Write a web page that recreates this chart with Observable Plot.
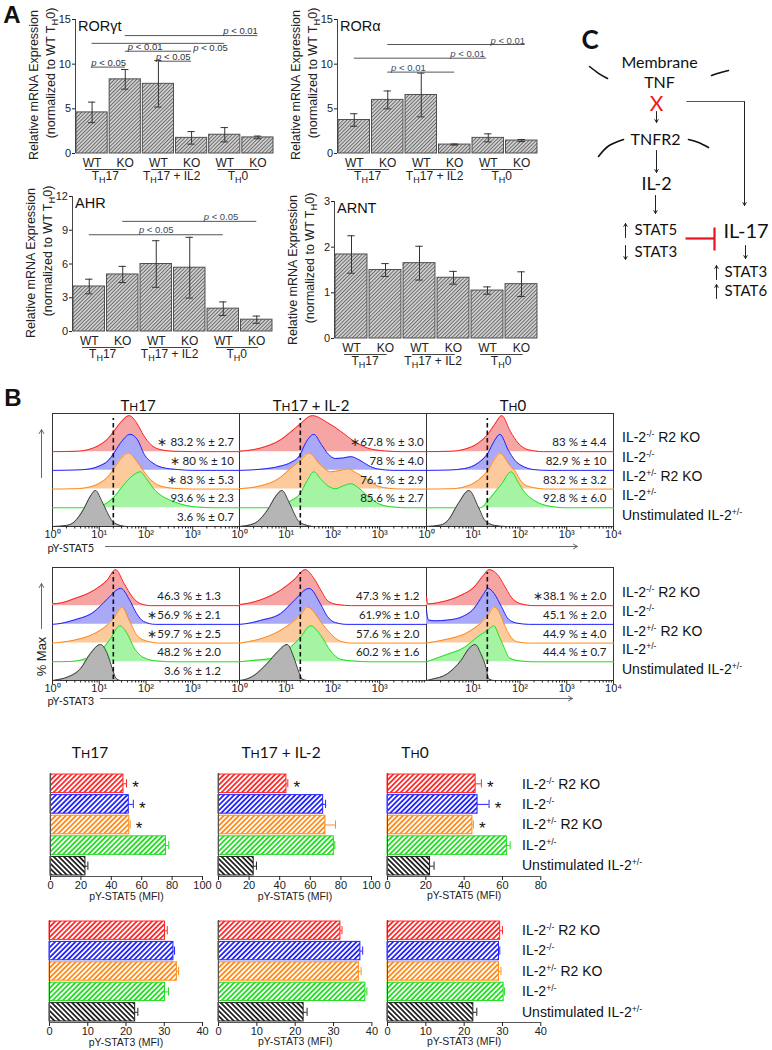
<!DOCTYPE html>
<html><head><meta charset="utf-8">
<script src="https://cdn.jsdelivr.net/npm/d3@7"></script>
<script src="https://cdn.jsdelivr.net/npm/@observablehq/plot@0.6"></script>
<style>
body{margin:0;background:#fff;}
#root{position:relative;width:772px;height:1050px;overflow:hidden;background:#fff;}
#root svg{position:absolute;background:transparent;overflow:visible;max-width:none;}
.lb{position:absolute;white-space:nowrap;line-height:1;}
.sp{font-size:0.62em;position:relative;top:-0.55em;}
.sb{font-size:0.75em;position:relative;top:0.3em;}
.sc{font-size:0.78em;}
</style></head>
<body>
<svg width="0" height="0" style="position:absolute">
<defs>
<pattern id="hatchA" patternUnits="userSpaceOnUse" width="2.6" height="2.6" patternTransform="rotate(45)">
<rect width="2.6" height="2.6" fill="#d0d0d0"/><rect width="0.9" height="2.6" fill="#666"/></pattern>
<pattern id="hb0" patternUnits="userSpaceOnUse" width="3.6" height="3.6" patternTransform="rotate(45)">
<rect width="3.6" height="3.6" fill="#fff"/><rect width="1.8" height="3.6" fill="#ff2a2a"/></pattern>
<pattern id="hb1" patternUnits="userSpaceOnUse" width="3.6" height="3.6" patternTransform="rotate(45)">
<rect width="3.6" height="3.6" fill="#fff"/><rect width="1.8" height="3.6" fill="#2424ff"/></pattern>
<pattern id="hb2" patternUnits="userSpaceOnUse" width="3.6" height="3.6" patternTransform="rotate(45)">
<rect width="3.6" height="3.6" fill="#fff"/><rect width="1.8" height="3.6" fill="#ff8c1a"/></pattern>
<pattern id="hb3" patternUnits="userSpaceOnUse" width="3.6" height="3.6" patternTransform="rotate(45)">
<rect width="3.6" height="3.6" fill="#fff"/><rect width="1.8" height="3.6" fill="#22dd22"/></pattern>
<pattern id="hb4" patternUnits="userSpaceOnUse" width="3.6" height="3.6" patternTransform="rotate(-45)">
<rect width="3.6" height="3.6" fill="#fff"/><rect width="1.8" height="3.6" fill="#222"/></pattern>
</defs></svg>
<div id="root"></div>
<script>
// ---------------- Panel A data ----------------
const groupsA = ["TH17", "TH17 + IL2", "TH0"];
const genotypesA = ["WT", "KO"];
const rorgtMean = [4.6, 8.3, 7.8, 1.75, 2.1, 1.8];
const rorgtErr  = [1.15, 1.1, 2.6, 0.7, 0.8, 0.15];
const roraMean  = [3.75, 6.0, 6.55, 1.0, 1.75, 1.45];
const roraErr   = [0.7, 1.0, 2.45, 0.06, 0.45, 0.12];
const ahrMean   = [4.0, 5.07, 6.0, 5.67, 2.03, 1.05];
const ahrErr    = [0.65, 0.72, 2.07, 2.7, 0.6, 0.32];
const arntMean  = [1.84, 1.5, 1.65, 1.33, 1.05, 1.19];
const arntErr   = [0.41, 0.14, 0.37, 0.14, 0.08, 0.27];
// significance brackets: [from bar, to bar, height]
const rorgtSigLines = [[1, 5, 13.2], [0, 4, 12.33], [1, 3, 11.45], [2, 3, 10.33], [0, 1, 9.67]];
const rorgtSigTexts = [["p < 0.01", 5, 13.75, "end"], ["p < 0.01", 1.6, 11.9, "middle"], ["p < 0.05", 3.05, 11.8, "start"], ["p < 0.05", 2.45, 10.8, "middle"], ["p < 0.05", 0.5, 10.15, "middle"]];
const roraSigLines = [[1, 5.1, 12.2], [0, 3.95, 10.67], [1, 3, 9.11]];
const roraSigTexts = [["p < 0.01", 5.1, 12.65, "end"], ["p < 0.01", 3.9, 11.15, "end"], ["p < 0.01", 1.1, 9.6, "start"]];
const ahrSigLines = [[0, 4, 8.6], [1, 5, 9.79]];
const ahrSigTexts = [["p < 0.05", 2.0, 9.05, "middle"], ["p < 0.05", 4.45, 10.2, "end"]];

// ---------------- Panel B data ----------------
const conditions = ["IL-2-/- R2 KO", "IL-2-/-", "IL-2+/- R2 KO", "IL-2+/-", "Unstimulated IL-2+/-"];
const columnsB = ["TH17", "TH17 + IL-2", "TH0"];
// histogram curves: [log10 intensity, % of max]
const s5Th17Red = [[0,0],[0.5,1],[0.8,7],[1.0,18],[1.2,38],[1.31,56],[1.45,80],[1.64,100],[1.8,80],[1.95,45],[2.1,20],[2.3,6],[2.6,1],[3,0],[4,0]];
const s5Th17Blue = [[0,0],[0.5,1],[0.8,4],[1.0,12],[1.2,28],[1.31,47],[1.45,75],[1.66,100],[1.82,85],[1.96,45],[2.15,20],[2.35,8],[2.7,2],[3,0],[4,0]];
const s5Th17Orange = [[0,0],[0.5,1],[0.8,6],[1.0,16],[1.2,36],[1.31,56],[1.45,82],[1.63,100],[1.8,78],[1.95,50],[2.1,26],[2.3,9],[2.6,2],[3,0],[4,0]];
const s5Th17Green = [[0,0],[0.8,0],[1.0,4],[1.15,12],[1.31,29],[1.5,60],[1.7,88],[1.88,100],[2.0,82],[2.17,52],[2.35,32],[2.5,22],[2.75,10],[3.1,2],[3.5,0],[4,0]];
const s5Th17Gray = [[0,0],[0.3,3],[0.46,12],[0.67,49],[0.8,82],[0.92,100],[1.05,72],[1.15,45],[1.25,20],[1.4,5],[1.6,0],[4,0]];
const s5Il2Red = [[0,1],[0.45,10],[0.88,33],[1.1,55],[1.29,76],[1.56,100],[1.88,81],[2.16,57],[2.45,29],[2.74,10],[3.1,2],[3.5,0],[4,0]];
const s5Il2Blue = [[0,0],[0.45,3],[0.88,12],[1.1,22],[1.29,42],[1.41,75],[1.59,100],[1.75,72],[1.9,45],[2.05,33],[2.2,34],[2.38,38],[2.55,30],[2.75,14],[2.95,4],[3.3,0],[4,0]];
const s5Il2Orange = [[0,1],[0.45,9],[0.88,33],[1.08,56],[1.29,78],[1.49,100],[1.74,66],[1.95,48],[2.15,52],[2.31,56],[2.5,45],[2.66,33],[2.95,9],[3.2,2],[3.5,0],[4,0]];
const s5Il2Green = [[0,0],[0.74,0],[1.09,19],[1.29,38],[1.45,76],[1.59,100],[1.75,78],[1.9,60],[2.05,53],[2.2,60],[2.38,67],[2.55,55],[2.74,33],[3.0,10],[3.3,2],[3.6,0],[4,0]];
const s5Il2Gray = [[0,0],[0.31,8],[0.6,46],[0.78,85],[0.91,100],[1.05,70],[1.15,42],[1.25,17],[1.4,5],[1.6,0],[4,0]];
const s5Th0Red = [[0,0],[0.5,1],[0.82,7],[1.11,24],[1.31,48],[1.46,76],[1.61,100],[1.79,57],[1.96,24],[2.18,5],[2.5,0],[4,0]];
const s5Th0Blue = [[0,0],[0.5,1],[0.82,5],[1.11,21],[1.31,47],[1.46,84],[1.57,100],[1.75,56],[1.89,28],[2.1,9],[2.3,2],[2.6,0],[4,0]];
const s5Th0Orange = [[0,0],[0.55,1],[0.89,9],[1.18,33],[1.31,51],[1.46,84],[1.57,100],[1.79,65],[1.89,51],[2.04,19],[2.25,5],[2.6,0],[4,0]];
const s5Th0Green = [[0,0],[1.15,0],[1.31,19],[1.43,38],[1.61,67],[1.81,100],[1.96,71],[2.1,43],[2.32,19],[2.61,5],[3.0,0],[4,0]];
const s5Th0Gray = [[0,0],[0.3,4],[0.46,17],[0.68,64],[0.91,100],[1.11,54],[1.25,17],[1.46,3],[1.7,0],[4,0]];
const s3Th17Red = [[0,5],[0.2,8],[0.46,19],[0.89,43],[1.17,71],[1.35,100],[1.53,62],[1.71,24],[1.89,5],[2.1,0],[4,0]];
const s3Th17Blue = [[0,0],[0.2,3],[0.46,12],[0.89,35],[1.17,70],[1.46,100],[1.64,70],[1.8,30],[1.95,8],[2.2,0],[4,0]];
const s3Th17Orange = [[0,0],[0.46,8],[0.89,26],[1.17,50],[1.31,69],[1.49,100],[1.64,64],[1.81,21],[2.03,5],[2.3,0],[4,0]];
const s3Th17Green = [[0,0],[0.4,1],[0.67,7],[1.03,30],[1.24,64],[1.44,100],[1.6,78],[1.74,40],[1.96,11],[2.24,2],[2.6,0],[4,0]];
const s3Th17Gray = [[0,0],[0.1,2],[0.31,9],[0.6,33],[0.81,75],[1.03,100],[1.17,75],[1.28,33],[1.35,8],[1.45,0],[4,0]];
const s3Il2Red = [[0,3],[0.2,7],[0.45,16],[0.88,43],[1.16,71],[1.41,100],[1.59,76],[1.74,43],[1.88,14],[2.09,3],[2.4,0],[4,0]];
const s3Il2Blue = [[0,0],[0.2,3],[0.45,11],[0.88,30],[1.16,65],[1.49,100],[1.74,55],[1.88,22],[2.05,5],[2.3,0],[4,0]];
const s3Il2Orange = [[0,0],[0.31,7],[0.74,26],[1.09,54],[1.31,78],[1.45,100],[1.6,85],[1.74,59],[1.95,26],[2.16,5],[2.4,0],[4,0]];
const s3Il2Green = [[0,0],[0.31,4],[0.74,11],[1.09,40],[1.31,69],[1.52,100],[1.74,73],[1.95,30],[2.16,7],[2.45,2],[2.8,0],[4,0]];
const s3Il2Gray = [[0,0],[0.1,2],[0.31,14],[0.59,47],[0.81,79],[1.02,100],[1.16,65],[1.27,23],[1.34,4],[1.45,0],[4,0]];
const s3Th0Red = [[0,25],[0.03,5],[0.31,10],[0.74,29],[1.02,52],[1.2,81],[1.34,100],[1.52,86],[1.66,57],[1.81,24],[2.02,5],[2.3,0],[4,0]];
const s3Th0Blue = [[0,40],[0.04,12],[0.2,10],[0.45,12],[0.74,20],[1.02,45],[1.2,80],[1.32,100],[1.45,85],[1.6,50],[1.75,15],[1.95,3],[2.2,0],[4,0]];
const s3Th0Orange = [[0,0],[0.45,11],[0.81,25],[1.09,48],[1.31,76],[1.45,100],[1.58,80],[1.66,53],[1.81,16],[1.95,3],[2.2,0],[4,0]];
const s3Th0Green = [[0,0],[0.09,4],[0.45,21],[0.81,40],[1.09,69],[1.31,88],[1.44,100],[1.56,69],[1.66,40],[1.77,11],[2.02,2],[2.3,0],[4,0]];
const s3Th0Gray = [[0,0],[0.1,3],[0.45,19],[0.74,56],[0.91,89],[1.04,100],[1.16,75],[1.27,37],[1.33,5],[1.45,0],[4,0]];
const gateValue = 20;
const s5Th17Pct = ["∗ 83.2 % ± 2.7", "∗ 80 % ± 10", "∗ 83 % ± 5.3", "93.6 % ± 2.3", "3.6 % ± 0.7"];
const s5Il2Pct = ["∗67.8 % ± 3.0", "78 % ± 4.0", "76.1 % ± 2.9", "85.6 % ± 2.7"];
const s5Th0Pct = ["83 % ± 4.4", "82.9 % ± 10", "83.2 % ± 3.2", "92.8 % ± 6.0"];
const s3Th17Pct = ["46.3 % ± 1.3", "∗56.9 % ± 2.1", "∗59.7 % ± 2.5", "48.2 % ± 2.0", "3.6 % ± 1.2"];
const s3Il2Pct = ["47.3 % ± 1.2", "61.9% ± 1.0", "57.6 % ± 2.0", "60.2 % ± 1.6"];
const s3Th0Pct = ["∗38.1 % ± 2.0", "45.1 % ± 2.0", "44.9 % ± 4.0", "44.4 % ± 0.7"];
// MFI bars
const mfi5Th17 = [48, 51.5, 51.8, 76, 23];
const mfi5Th17Err = [2, 3, 0.6, 1.8, 1.6];
const mfi5Th17Sig = [1, 1, 1, 0, 0];
const mfi5Il2 = [44.4, 68.4, 69.9, 75.4, 23];
const mfi5Il2Err = [0.9, 1.6, 6.6, 0.6, 1.8];
const mfi5Il2Sig = [1, 0, 0, 0, 0];
const mfi5Th0 = [46, 47, 44.3, 62.3, 22.2];
const mfi5Th0Err = [3, 6, 0.5, 1.7, 2.1];
const mfi5Th0Sig = [1, 1, 1, 0, 0];
const mfi3Th17 = [30.2, 32.4, 33.3, 30.2, 22.4];
const mfi3Th17Err = [0.6, 0.3, 0.45, 0.9, 0.7];
const mfi3Il2 = [31.8, 37, 36.6, 38.3, 22.2];
const mfi3Il2Err = [0.4, 0.6, 0.6, 0.4, 0.9];
const mfi3Th0 = [29.4, 29.1, 29.1, 30.3, 22.4];
const mfi3Th0Err = [0.6, 0.2, 0.5, 0.2, 0.9];
const noSig = [0, 0, 0, 0, 0];

// ---------------- helpers ----------------
const root = document.getElementById("root");
const FONT = "'Liberation Sans', Arial, sans-serif";
const CAL = "Lato, 'Open Sans', sans-serif";
const baseStyle = {background: "transparent", fontFamily: FONT, fontSize: "11px", color: "#222", overflow: "visible"};
function place(svg, left, top) { svg.style.left = left + "px"; svg.style.top = top + "px"; root.appendChild(svg); return svg; }
function label(html, x, y, o = {}) {
  const d = document.createElement("div");
  d.className = "lb";
  d.innerHTML = html;
  const ax = o.anchor === "start" ? "0%" : o.anchor === "end" ? "-100%" : "-50%";
  Object.assign(d.style, {left: x + "px", top: y + "px", fontFamily: o.family || FONT, fontSize: (o.size || 12) + "px",
    color: o.color || "#111", fontWeight: o.weight || "normal",
    transform: `translate(${ax},-50%)` + (o.rotate ? ` rotate(${o.rotate}deg)` : "")});
  root.appendChild(d);
}
function richText(svg) {
  svg.querySelectorAll("text").forEach(el => {
    const s = el.textContent;
    if (s.startsWith("p <")) el.innerHTML = `<tspan font-style="italic">p</tspan> &lt; ${s.slice(4)}`;
    else if (s.startsWith("TH")) el.innerHTML = `T<tspan dy="3" font-size="9">H</tspan><tspan dy="-3">${s.slice(2)}</tspan>`;
  });
}
const subH = s => s.replace("TH", "T<span class=sb>H</span>");
const scH = s => s.replace("TH", "T<span class=sc>H</span>");
const supG = s => s.replace(/([+-]\/-)/, "<span class=sp>$1</span>");

// ---------------- Panel A ----------------
function panelA(title, mean, err, ymax, ticks, X0, X1, Ytop, Y0, sigLines, sigTexts, sigColor) {
  const mL = 40, mR = 8, mT = 4, mB = 32;
  const data = mean.map((v, i) => ({i, v, e: err[i], g: genotypesA[i % 2]}));
  const groups = groupsA.map((g, k) => ({g, i0: 2 * k, i1: 2 * k + 1}));
  const lines = sigLines.map(([a, b, y]) => ({a, b, y}));
  const texts = sigTexts.map(([t, x, y, anchor]) => ({t, x, y, anchor}));
  const marks = [
    Plot.rect(data, {x1: d => d.i - 0.47, x2: d => d.i + 0.47, y1: () => 0, y2: "v", fill: "url(#hatchA)", stroke: "#505050", strokeWidth: 1}),
    Plot.ruleX(data, {x: "i", y1: d => d.v - d.e, y2: d => d.v + d.e, stroke: "#333"}),
    Plot.ruleY(data, {x1: d => d.i - 0.11, x2: d => d.i + 0.11, y: d => d.v + d.e, stroke: "#333"}),
    Plot.ruleY(data, {x1: d => d.i - 0.11, x2: d => d.i + 0.11, y: d => d.v - d.e, stroke: "#333"}),
    Plot.ruleX([-0.5], {y1: 0, y2: ymax, stroke: "#444"}),
    Plot.axisY({ticks, tickFormat: d => String(d), tickSize: 3, tickPadding: 1.5, fontSize: 11, label: null}),
    Plot.text(data, {x: "i", y: () => 0, dy: 10, text: "g", fontSize: 12}),
    Plot.ruleY(groups, {x1: d => d.i0 - 0.2, x2: d => d.i1 + 0.05, y: () => 0, dy: 16, stroke: "#444"}),
    Plot.text(groups, {x: d => (d.i0 + d.i1) / 2 - 0.1, y: () => 0, dy: 23, text: "g", fontSize: 12}),
    Plot.ruleY(lines, {x1: "a", x2: "b", y: "y", stroke: "#555"})
  ];
  for (const a of ["start", "middle", "end"]) {
    marks.push(Plot.text(texts.filter(t => t.anchor === a), {x: "x", y: "y", text: "t", textAnchor: a, fontSize: 9.5, fill: sigColor}));
  }
  const svg = Plot.plot({
    width: X1 - X0 + mL + mR, height: Y0 - Ytop + mT + mB,
    marginLeft: mL, marginRight: mR, marginTop: mT, marginBottom: mB,
    style: baseStyle,
    x: {domain: [-0.5, 5.5], axis: null},
    y: {domain: [0, ymax]},
    marks
  });
  richText(svg);
  place(svg, X0 - mL, Ytop - mT);
  label(title, X0 + 3, Ytop + 6.5, {anchor: "start", size: 14.5});
  label("Relative mRNA Expression", X0 - 41, Y0 - 68, {rotate: -90, size: 12.5, color: "#222"});
  label(subH("(normalized to WT TH0)"), X0 - 24, Y0 - 80, {rotate: -90, size: 12.5, color: "#222"});
}
panelA("RORγt", rorgtMean, rorgtErr, 15, [0, 5, 10, 15], 75, 274, 19, 153, rorgtSigLines, rorgtSigTexts, "#333");
panelA("RORα", roraMean, roraErr, 15, [0, 5, 10, 15], 337, 538, 19, 153, roraSigLines, roraSigTexts, "#3d4a68");
panelA("AHR", ahrMean, ahrErr, 12, [0, 3, 6, 9, 12], 72, 273, 196, 331, ahrSigLines, ahrSigTexts, "#3d4558");
panelA("ARNT", arntMean, arntErr, 3, [0, 1, 2, 3], 334, 538, 201, 338, [], [], "#333");

// ---------------- Panel B histograms ----------------
const hOffsets = [208, 156, 104, 52, 0];
const hStroke = ["#ff1f1f", "#2020ff", "#ff8a1c", "#22dd22", "#3c3c3c"];
const hFill = ["#f6a5a5", "#a9a9f7", "#fcca9c", "#a4f4a4", "#b5b5b5"];
const minorTicks = d3.range(0, 4).flatMap(k => d3.range(2, 10).map(m => m * 10 ** k));
const supDigits = "⁰¹²³⁴";
function histBox(curves, pct, pctL, X0, Ytop, tickVals) {
  const mL = 12, mR = 12, mT = 2, mB = 22;
  const marks = [Plot.frame({stroke: "#333"})];
  curves.forEach((pts, k) => {
    const off = hOffsets[k];
    marks.push(Plot.areaY(pts, {x: d => 10 ** d[0], y1: () => off, y2: d => off + d[1], fill: hFill[k], curve: "monotone-x"}));
    marks.push(Plot.line(pts, {x: d => 10 ** d[0], y: d => off + d[1], stroke: hStroke[k], strokeWidth: 1, curve: "monotone-x"}));
  });
  marks.push(Plot.ruleX([gateValue], {y1: 3, y2: 300, stroke: "#111", strokeWidth: 1.6, strokeDasharray: "4.5,3"}));
  marks.push(Plot.text(pct, {x: () => 10 ** pctL, y: (d, i) => hOffsets[i] + 25, text: d => d, textAnchor: "end", fontSize: 11.5, fontFamily: CAL, fill: "#222"}));
  marks.push(Plot.axisX({ticks: tickVals, tickFormat: d => "10" + supDigits[Math.round(Math.log10(d))], tickSize: 4, tickPadding: 0, fontSize: 11, label: null}));
  marks.push(Plot.axisX({ticks: minorTicks, tickSize: 2.5, tickFormat: () => "", label: null}));
  const svg = Plot.plot({
    width: 187 + mL + mR, height: 113 + mT + mB,
    marginLeft: mL, marginRight: mR, marginTop: mT, marginBottom: mB,
    style: baseStyle,
    x: {type: "log", domain: [1, 1e4]},
    y: {domain: [0, 314], axis: null},
    marks
  });
  place(svg, X0 - mL, Ytop - mT);
}
histBox([s5Th17Red, s5Th17Blue, s5Th17Orange, s5Th17Green, s5Th17Gray], s5Th17Pct, 3.88, 52, 413, [1, 10, 100, 1000]);
histBox([s5Il2Red, s5Il2Blue, s5Il2Orange, s5Il2Green, s5Il2Gray], s5Il2Pct, 3.94, 239, 413, [1, 10, 100, 1000]);
histBox([s5Th0Red, s5Th0Blue, s5Th0Orange, s5Th0Green, s5Th0Gray], s5Th0Pct, 3.85, 426, 413, [1, 10, 100, 1000, 10000]);
histBox([s3Th17Red, s3Th17Blue, s3Th17Orange, s3Th17Green, s3Th17Gray], s3Th17Pct, 3.6, 52, 567, [1, 10, 100, 1000]);
histBox([s3Il2Red, s3Il2Blue, s3Il2Orange, s3Il2Green, s3Il2Gray], s3Il2Pct, 3.85, 239, 567, [1, 10, 100, 1000]);
histBox([s3Th0Red, s3Th0Blue, s3Th0Orange, s3Th0Green, s3Th0Gray], s3Th0Pct, 3.85, 426, 567, [10, 100, 1000, 10000]);

// ---------------- Panel B bar charts ----------------
const condColors = ["#ff2a2a", "#2424ff", "#ff8c1a", "#22dd22", "#222222"];
function barChart(vals, errs, sig, xmax, ticks, X0, X1, Ytop, Ybot, axisLabel) {
  const mL = 12, mR = 30, mT = 2, mB = 32;
  const data = conditions.map((c, i) => ({i, c, v: vals[i], e: errs[i], s: sig[i]}));
  const marks = [];
  data.forEach(d => {
    const col = condColors[d.i];
    marks.push(Plot.rect([d], {x1: () => 0, x2: "v", y1: d => d.i - 0.45, y2: d => d.i + 0.45, fill: `url(#hb${d.i})`, stroke: col, strokeWidth: 1}));
    marks.push(Plot.ruleY([d], {x1: "v", x2: d => d.v + d.e, y: "i", stroke: col}));
    marks.push(Plot.ruleX([d], {x: d => d.v + d.e, y1: d => d.i - 0.2, y2: d => d.i + 0.2, stroke: col}));
  });
  marks.push(Plot.text(data.filter(d => d.s), {x: d => d.v + d.e, y: "i", text: () => "*", dx: 9, dy: 4, fontSize: 17, fill: "#111"}));
  marks.push(Plot.ruleX([0], {y1: -0.5, y2: 4.5, stroke: "#555"}));
  marks.push(Plot.ruleY([4.5], {x1: 0, x2: xmax, stroke: "#555"}));
  marks.push(Plot.axisX({ticks, tickSize: 4, tickPadding: 1, fontSize: 11, label: null}));
  marks.push(Plot.text([axisLabel], {frameAnchor: "bottom", dy: 23, text: d => d, fontSize: 10.5}));
  const svg = Plot.plot({
    width: X1 - X0 + mL + mR, height: Ybot - Ytop + mT + mB,
    marginLeft: mL, marginRight: mR, marginTop: mT, marginBottom: mB,
    style: baseStyle,
    x: {domain: [0, xmax]},
    y: {domain: [4.5, -0.5], axis: null},
    marks
  });
  place(svg, X0 - mL, Ytop - mT);
}
barChart(mfi5Th17, mfi5Th17Err, mfi5Th17Sig, 100, [0, 20, 40, 60, 80, 100], 50, 202, 773, 876, "pY-STAT5 (MFI)");
barChart(mfi5Il2, mfi5Il2Err, mfi5Il2Sig, 100, [0, 20, 40, 60, 80, 100], 218, 371, 773, 876, "pY-STAT5 (MFI)");
barChart(mfi5Th0, mfi5Th0Err, mfi5Th0Sig, 80, [0, 20, 40, 60, 80], 386.7, 540, 773, 876, "pY-STAT5 (MFI)");
barChart(mfi3Th17, mfi3Th17Err, noSig, 40, [0, 10, 20, 30, 40], 49.3, 202.3, 920, 1022, "pY-STAT3 (MFI)");
barChart(mfi3Il2, mfi3Il2Err, noSig, 40, [0, 10, 20, 30, 40], 218.3, 371.7, 920, 1022, "pY-STAT3 (MFI)");
barChart(mfi3Th0, mfi3Th0Err, noSig, 40, [0, 10, 20, 30, 40], 386.7, 540, 920, 1022, "pY-STAT3 (MFI)");

// ---------------- Panel C diagram + panel B decorations ----------------
const diagCenter = [
  {t: "Membrane", x: 659, y: 62, s: 16}, {t: "TNF", x: 659, y: 82, s: 16},
  {t: "TNFR2", x: 655, y: 139, s: 16}, {t: "IL-2", x: 656, y: 184, s: 18}
];
const diagLeft = [
  {t: "STAT5", x: 634, y: 230, s: 15}, {t: "STAT3", x: 634, y: 252, s: 15},
  {t: "IL-17", x: 723, y: 231, s: 20}, {t: "STAT3", x: 724, y: 272, s: 15}, {t: "STAT6", x: 724, y: 291, s: 15}
];
const diagArrows = [[656,111,656,122],[656,150,656,172],[655,195,655,213],[744,101,744,205],[745,245,745,258],
  [625,237,625,223],[625,245,625,259],[716,279,716,265],[716,298,716,284]].map(([x1,y1,x2,y2]) => ({x1,y1,x2,y2}));
const diagLinks = [[686,101,744,101]].map(([x1,y1,x2,y2]) => ({x1,y1,x2,y2}));
const inhibit = [[685,238,714,238],[714,227,714,250]].map(([x1,y1,x2,y2]) => ({x1,y1,x2,y2}));
const diagArcs = [[[589,66],[598,72.8],[607,78]], [[711,75],[719.5,72.2],[728,70]],
  [[598,156],[608,145.5],[623,139]], [[688,139],[698,142],[708,147]]]
  .flatMap((a, id) => a.map(([x, y]) => ({id, x, y})));
const bAxisArrows = [[41,477,41,429],[41,628,41,583],[105,546,577,546],[100,698,572,698]].map(([x1,y1,x2,y2]) => ({x1,y1,x2,y2}));
const bAxisTexts = [{t: "pY-STAT5", x: 47, y: 548}, {t: "pY-STAT3", x: 47, y: 701}];
const decor = Plot.plot({
  width: 772, height: 1050, margin: 0,
  style: baseStyle,
  x: {domain: [0, 772], range: [0, 772], axis: null},
  y: {domain: [0, 1050], range: [0, 1050], axis: null},
  marks: [
    Plot.text(diagCenter, {x: "x", y: "y", text: "t", fontSize: "s", fontFamily: CAL, fill: "#111"}),
    Plot.text(diagLeft, {x: "x", y: "y", text: "t", fontSize: "s", textAnchor: "start", fontFamily: CAL, fill: "#111"}),
    Plot.text(["X"], {x: () => 656, y: () => 104, text: d => d, fontSize: 21, fontFamily: CAL, fill: "#ee1c1c"}),
    Plot.line(diagArcs, {x: "x", y: "y", z: "id", curve: "natural", stroke: "#111", strokeWidth: 1.6}),
    Plot.arrow(diagArrows, {x1: "x1", y1: "y1", x2: "x2", y2: "y2", headLength: 5, stroke: "#222", strokeWidth: 1}),
    Plot.link(diagLinks, {x1: "x1", y1: "y1", x2: "x2", y2: "y2", stroke: "#555", strokeWidth: 1}),
    Plot.link(inhibit, {x1: "x1", y1: "y1", x2: "x2", y2: "y2", stroke: "#e8141c", strokeWidth: 2.2}),
    Plot.arrow(bAxisArrows, {x1: "x1", y1: "y1", x2: "x2", y2: "y2", headLength: 7, stroke: "#666", strokeWidth: 1}),
    Plot.text(bAxisTexts, {x: "x", y: "y", text: "t", textAnchor: "start", fontSize: 11, fontFamily: CAL, fill: "#222"}),
    Plot.text(["% Max"], {x: () => 41, y: () => 656, text: d => d, rotate: -90, fontSize: 13, fill: "#222"})
  ]
});
root.insertBefore(decor, root.firstChild);
decor.style.left = "0px"; decor.style.top = "0px";

// ---------------- HTML labels ----------------
label("A", 12, 15, {size: 24, weight: "bold"});
label("B", 13, 398, {size: 24, weight: "bold"});
label("C", 590, 39, {size: 26, weight: "bold", family: CAL});
[[138, 405], [311, 405], [513, 405]].forEach(([x, y], k) => label(scH(columnsB[k]), x, y, {size: 15, family: CAL}));
[[90, 753], [281, 753], [415, 753]].forEach(([x, y], k) => label(scH(columnsB[k]), x, y, {size: 15.5, family: CAL}));
const histLegY = [[437, 457, 476, 495, 515], [592, 611, 631, 649, 669]];
const barLegY = [[784, 804, 824, 845, 865], [930, 950, 971, 991, 1012]];
histLegY.forEach(ys => ys.forEach((y, i) => label(supG(conditions[i]), 622, y, {anchor: "start", size: 14})));
barLegY.forEach(ys => ys.forEach((y, i) => label(supG(conditions[i]), 522, y, {anchor: "start", size: 14})));
</script>
</body></html>
